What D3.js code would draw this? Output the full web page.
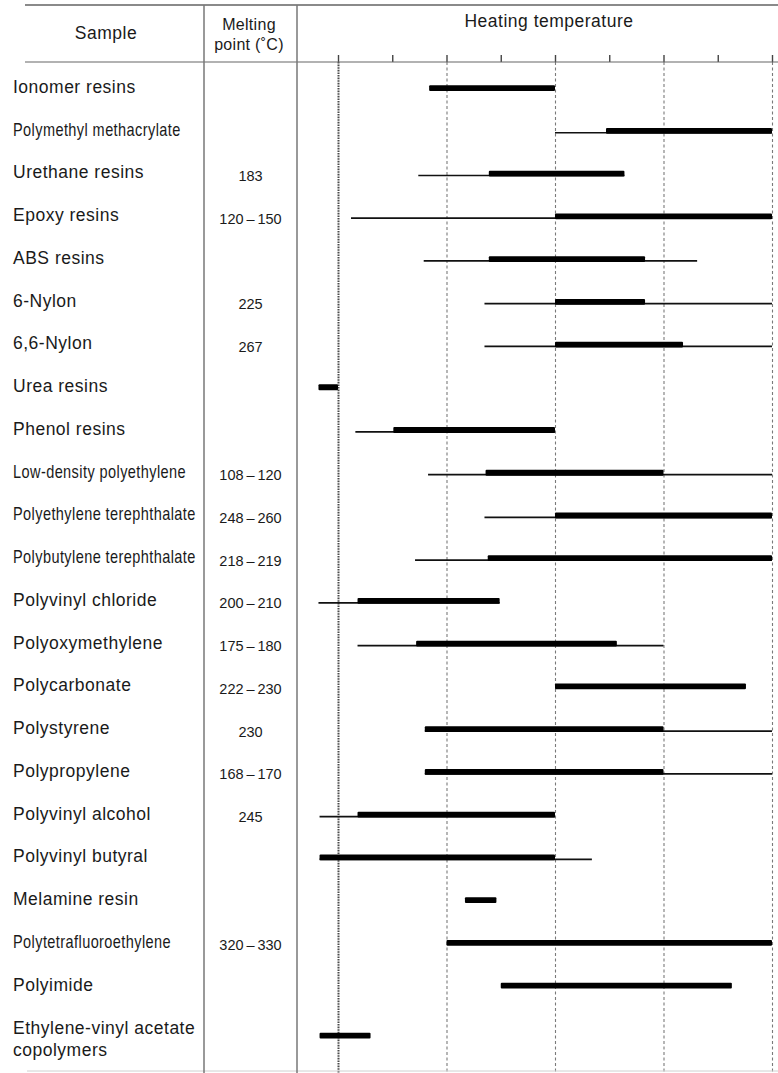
<!DOCTYPE html>
<html lang="en">
    <head>
        <meta charset="utf-8">
        <title>Heating temperature of resins</title>
        <script type="text/javascript" src="https://cdn.jsdelivr.net/npm/d3@7"></script>
        <style>
          body { margin: 0; background: #fff; }
          text { font-family: "Liberation Sans", Arial, sans-serif; fill: #1a1a1a; }
        </style>
    </head>
    <body>
        <script type="text/javascript">
          // Data (temperatures in the axis units, 100..500)
          var samples = ["Ionomer resins", "Polymethyl methacrylate", "Urethane resins", "Epoxy resins",
            "ABS resins", "6-Nylon", "6,6-Nylon", "Urea resins", "Phenol resins",
            "Low-density polyethylene", "Polyethylene terephthalate", "Polybutylene terephthalate",
            "Polyvinyl chloride", "Polyoxymethylene", "Polycarbonate", "Polystyrene", "Polypropylene",
            "Polyvinyl alcohol", "Polyvinyl butyral", "Melamine resin", "Polytetrafluoroethylene",
            "Polyimide", "Ethylene-vinyl acetate\ncopolymers"];
          var meltingPoints = ["", "", "183", "120\u2009\u2013\u2009150", "", "225", "267", "", "",
            "108\u2009\u2013\u2009120", "248\u2009\u2013\u2009260", "218\u2009\u2013\u2009219", "200\u2009\u2013\u2009210", "175\u2009\u2013\u2009180",
            "222\u2009\u2013\u2009230", "230", "168\u2009\u2013\u2009170", "245", "", "", "320\u2009\u2013\u2009330", "", ""];
          // possible heating range (thin line), null where none is drawn
          var rangeLow  = [null, 300, 174, 112, 179, 235, 235, null, 116, 183, 235, 171, 82, 118, null, 180, 180, 83, 83, null, null, null, null];
          var rangeHigh = [null, 500, 364, 500, 431, 500, 500, null, 300, 500, 500, 500, 249, 400, null, 500, 500, 300, 334, null, null, null, null];
          // suitable heating range (thick bar)
          var optLow  = [184, 347, 239, 300, 239, 300, 300, 82, 151, 236, 300, 238, 118, 172, 300, 180, 180, 118, 83, 217, 200, 250, 83];
          var optHigh = [300, 500, 364, 500, 383, 383, 418, 100, 300, 400, 500, 500, 249, 357, 476, 400, 400, 300, 300, 246, 500, 463, 130];
          var tickValues = [100, 150, 200, 250, 300, 350, 400, 450, 500];
          var gridValues = [100, 200, 300, 400, 500];

          var w = 778;
          var h = 1073;
          var headerY = 62;
          var col1 = 204, col2 = 297;

          var svg = d3.select("body").append("svg")
                      .attr("width", w)
                      .attr("height", h);

          var xScale = d3.scaleLinear()
                  .domain([100, 500])
                  .range([338, 772]);

          // rows are evenly spaced, the last (two-line) row sits a bit lower
          var n = samples.length;
          var yScale = d3.scaleLinear()
                  .domain([0, n - 2, n - 1])
                  .range([90, 987.5, 1037.5]);

          // Dashed gridlines
          var grid = svg.append("g")
                  .attr("class", "grid")
                  .attr("transform", "translate(0," + headerY + ")")
                  .call(d3.axisBottom(xScale).tickValues(gridValues).tickSize(h - headerY).tickFormat(""));
          grid.select(".domain").remove();
          grid.selectAll(".tick line")
              .attr("stroke", "#7a7a7a")
              .attr("stroke-width", 1.1)
              .attr("stroke-dasharray", "3,2.5");
          grid.selectAll(".tick line").filter(function(d) { return d === gridValues[0]; })
              .attr("stroke", "#4a4a4a")
              .attr("stroke-width", 2)
              .attr("stroke-dasharray", "1.6,1");

          // Tick marks on top of the heating column
          var xAxis = svg.append("g")
                  .attr("class", "x-axis")
                  .attr("transform", "translate(0," + headerY + ")")
                  .call(d3.axisTop(xScale).tickValues(tickValues).tickSize(7).tickFormat(""));
          xAxis.select(".domain").remove();
          xAxis.selectAll(".tick line")
              .attr("stroke", "#444")
              .attr("stroke-width", 1.4);

          // Table rules
          svg.append("line").attr("x1", 25).attr("x2", w).attr("y1", 5).attr("y2", 5)
              .attr("stroke", "#8a8a8a").attr("stroke-width", 2);
          svg.append("line").attr("x1", 25).attr("x2", w).attr("y1", headerY).attr("y2", headerY)
              .attr("stroke", "#666").attr("stroke-width", 1.2);
          svg.append("line").attr("x1", 27).attr("x2", w).attr("y1", h - 2).attr("y2", h - 2)
              .attr("stroke", "#d0d0d0").attr("stroke-width", 1);
          [col1, col2].forEach(function(cx) {
            svg.append("line").attr("x1", cx).attr("x2", cx).attr("y1", 5).attr("y2", h)
                .attr("stroke", "#777").attr("stroke-width", 1.5);
          });

          // Headers
          svg.append("text").attr("x", 106).attr("y", 39)
              .attr("text-anchor", "middle")
              .style("font-size", "17.5px").style("letter-spacing", "0.5px")
              .text("Sample");
          svg.append("text").attr("x", 249).attr("y", 29.5)
              .attr("text-anchor", "middle")
              .style("font-size", "16px").style("letter-spacing", "0.3px")
              .text("Melting");
          svg.append("text").attr("x", 249).attr("y", 49.5)
              .attr("text-anchor", "middle")
              .style("font-size", "16px").style("letter-spacing", "0.3px")
              .text("point (\u02DAC)");
          svg.append("text").attr("x", 549).attr("y", 26.5)
              .attr("text-anchor", "middle")
              .style("font-size", "17.5px").style("letter-spacing", "0.5px")
              .text("Heating temperature");

          // Sample labels (long names are set condensed, as in the original)
          var labels = svg.selectAll("text.sample")
              .data(samples)
              .enter()
              .append("text")
              .attr("class", "sample")
              .style("font-size", "17.5px")
              .style("letter-spacing", "0.5px");
          labels.each(function(d, i) {
            var t = d3.select(this);
            var parts = d.split("\n");
            var y0 = yScale(i) + 3 - (parts.length - 1) * 6.5;
            var len = 0;
            parts.forEach(function(p, k) {
              var s = t.append("tspan").attr("x", 0).attr("y", k * 21.5).text(p);
              len = Math.max(len, s.node().getComputedTextLength());
            });
            var sx = len > 188 ? 0.83 : 1;
            t.attr("transform", "translate(13," + y0 + ") scale(" + sx + ",1)");
          });

          // Melting points
          svg.selectAll("text.melt")
              .data(meltingPoints)
              .enter()
              .append("text")
              .attr("class", "melt")
              .attr("x", (col1 + col2) / 2)
              .attr("y", function(d, i) { return yScale(i) + 5.5; })
              .attr("text-anchor", "middle")
              .style("font-size", "14.5px")
              .text(function(d) { return d; });

          // Thin lines: possible range
          svg.selectAll("line.range")
              .data(samples.filter(function(d, i) { return rangeLow[i] !== null; }))
              .enter()
              .append("line")
              .attr("class", "range")
              .attr("x1", function(d) { return xScale(rangeLow[samples.indexOf(d)]); })
              .attr("x2", function(d) { return xScale(rangeHigh[samples.indexOf(d)]); })
              .attr("y1", function(d) { return yScale(samples.indexOf(d)); })
              .attr("y2", function(d) { return yScale(samples.indexOf(d)); })
              .attr("stroke", "#111")
              .attr("stroke-width", 1.7);

          // Thick bars: suitable range
          svg.selectAll("rect.opt")
              .data(samples)
              .enter()
              .append("rect")
              .attr("class", "opt")
              .attr("x", function(d, i) { return xScale(optLow[i]); })
              .attr("y", function(d, i) { return yScale(i) - 4.8; })
              .attr("width", function(d, i) { return xScale(optHigh[i]) - xScale(optLow[i]); })
              .attr("height", 5.8)
              .attr("rx", 1)
              .attr("fill", "#000");
        </script>
    </body>
</html>
